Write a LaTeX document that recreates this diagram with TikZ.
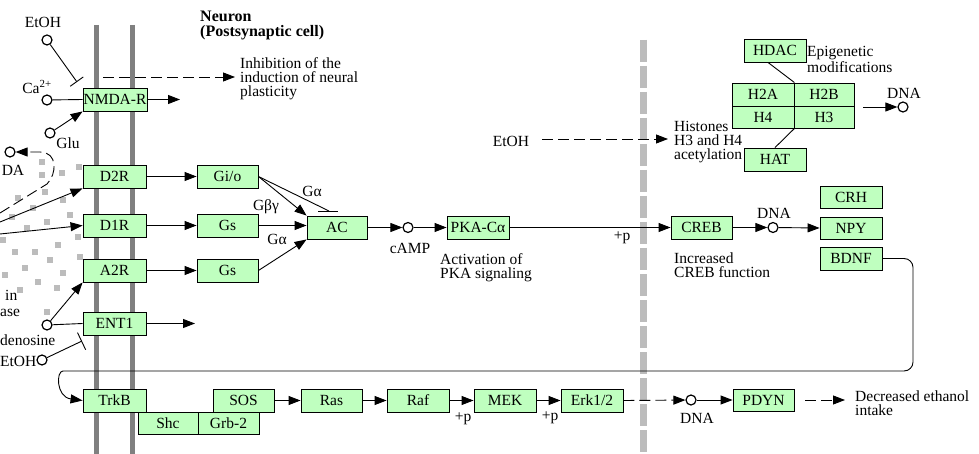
\documentclass[tikz,border=0pt]{standalone}
\usepackage{fontspec}
\setmainfont{Liberation Serif}
\usetikzlibrary{arrows.meta,calc}
\definecolor{kgreen}{RGB}{191,255,191}
\definecolor{memb}{RGB}{128,128,128}
\definecolor{cleft}{RGB}{188,188,188}
\newcommand\kf{\fontsize{15.5}{14}\selectfont}
\newcommand\kb{\fontsize{16}{15}\selectfont\bfseries}
\tikzset{
  gene/.style={draw=black, line width=0.9pt, fill=kgreen, minimum width=62pt, minimum height=23pt, inner sep=0pt, font=\kf},
  cpd/.style={circle, draw=black, line width=1.2pt, fill=white, minimum size=10pt, inner sep=0pt},
  lbl/.style={font=\kf, inner sep=0pt},
  txt/.style={font=\kf, inner sep=0pt, align=left, anchor=west},
  conn/.style={line width=0.9pt},
  act/.style={conn, -{Triangle[length=12pt,width=9pt]}},
  dact/.style={act, dash pattern=on 11pt off 5pt},
  inh/.style={conn, -{Bar[width=16pt, line width=0.9pt]}},
}
\begin{document}
\begin{tikzpicture}[x=1pt,y=-1pt]
\useasboundingbox (0,0) rectangle (979,454);
\clip (0,0) rectangle (979,454);
\fill[white] (0,0) rectangle (979,454);
% membranes
\draw[memb, line width=5pt] (96.5,25) -- (96.5,460);
\draw[memb, line width=5pt] (132,25) -- (132,460);
\draw[cleft, line width=7pt, dash pattern=on 22pt off 4pt] (643,40) -- (643,460);
% synaptic cleft squares
\foreach \x/\y in {42/162,42/175,62/173,79/167,45/192,18/198,63/200,33/208,47/222,70/215,27/228,12/217,58/245,78/237,15/252,35/252,50/260,80/257,25/268,63/273,38/282,57/288,20/290,47/312,5/275,3/240}
  \fill[cleft] (\x-2.75,\y-2.75) rectangle ++(5.5,5.5);
% title
\node[font=\kb, align=left, anchor=west, inner sep=0pt] (title) at (200,25) {Neuron\\(Postsynaptic cell)};
% genes
\node[gene, minimum width=64pt] (nmda) at (115,99.5) {NMDA-R};
\node[gene, minimum width=63pt] (d2r) at (114.5,176.5) {D2R};
\node[gene, minimum width=63pt] (d1r) at (114.5,225.5) {D1R};
\node[gene, minimum width=63pt] (a2r) at (114.5,270.5) {A2R};
\node[gene, minimum width=63pt] (ent1) at (114.5,323.5) {ENT1};
\node[gene, minimum width=61pt] (gio) at (227.5,176.5) {Gi/o};
\node[gene, minimum width=61pt] (gs1) at (227.5,225.5) {Gs};
\node[gene, minimum width=61pt] (gs2) at (227.5,270.5) {Gs};
\node[gene, minimum width=60pt] (ac) at (337,227.5) {AC};
\node[gene] (pka) at (478,227.5) {PKA-Cα};
\node[gene, minimum width=61pt] (creb) at (701.5,227.5) {CREB};
\node[gene, minimum height=22pt] (crh) at (851,197) {CRH};
\node[gene, minimum height=22pt] (npy) at (851,228) {NPY};
\node[gene] (bdnf) at (851,258.5) {BDNF};
\node[gene] (hdac) at (775,50.5) {HDAC};
\node[gene] (hat) at (775,159.5) {HAT};
\node[gene, minimum width=62pt, minimum height=23pt] (h2a) at (763,94.5) {H2A};
\node[gene, minimum width=60pt, minimum height=23pt] (h2b) at (824,94.5) {H2B};
\node[gene, minimum width=62pt, minimum height=22pt] (h4) at (763,117) {H4};
\node[gene, minimum width=60pt, minimum height=22pt] (h3) at (824,117) {H3};
\node[gene, minimum width=60pt, minimum height=22pt] (shc) at (168,423) {Shc};
\node[gene, minimum width=61pt, minimum height=22pt] (grb2) at (228.5,423) {Grb-2};
\node[gene, minimum width=63pt] (trkb) at (114.5,400.5) {TrkB};
\node[gene, minimum width=61pt] (sos) at (243.5,400.5) {SOS};
\node[gene, minimum width=61pt] (ras) at (331.5,400.5) {Ras};
\node[gene] (raf) at (418,400.5) {Raf};
\node[gene] (mek) at (505,400.5) {MEK};
\node[gene] (erk) at (592,400.5) {Erk1/2};
\node[gene, minimum width=61pt, minimum height=22pt] (pdyn) at (763.5,400) {PDYN};
% compounds
\node[cpd] (etoh1) at (47,40) {};
\node[lbl] (etoh1l) at (43,22) {EtOH};
\node[cpd] (ca) at (47,100) {};
\node[lbl] (cal) at (37,87) {Ca\textsuperscript{2+}};
\node[cpd] (glu) at (50,133) {};
\node[lbl] (glul) at (68,143) {Glu};
\node[cpd] (da) at (10,152) {};
\node[lbl] (dal) at (13,170) {DA};
\node[cpd] (ade) at (47,325) {};
\node[lbl, anchor=west] (adel) at (0,340) {denosine};
\node[cpd] (etoh2) at (42,360) {};
\node[lbl, anchor=west] (etoh2l) at (0,361) {EtOH};
\node[lbl, anchor=west] (inl) at (5,295) {in};
\node[lbl, anchor=west] (asel) at (0,313) {ase};
\node[cpd] (camp) at (408,227.5) {};
\node[lbl] (campl) at (410,248) {cAMP};
\node[cpd] (dna1) at (773,227.5) {};
\node[lbl] (dna1l) at (774,213) {DNA};
\node[cpd] (dna2) at (903,107) {};
\node[lbl] (dna2l) at (904,93) {DNA};
\node[cpd] (dna3) at (691,400) {};
\node[lbl] (dna3l) at (697,418) {DNA};
\node[lbl] (etoh3) at (511,141) {EtOH};
% texts
\node[txt] (inhtxt) at (240,79) {Inhibition of the\\induction of neural\\plasticity};
\node[txt] (pkatxt) at (440,268) {Activation of\\PKA signaling};
\node[txt] (crebtxt) at (674,265.5) {Increased\\CREB function};
\node[txt] (histxt) at (674,142) {Histones\\H3 and H4\\acetylation};
\node[txt] (epitxt) at (807,59.5) {Epigenetic\\modifications};
\node[txt] (dectxt) at (855,403) {Decreased ethanol\\intake};
\node[lbl] (p1) at (622,238) {+p};
\node[lbl] (p2) at (463,419) {+p};
\node[lbl] (p3) at (550,418) {+p};
\node[lbl] (ga1) at (312,191) {Gα};
\node[lbl] (gbg) at (266,207) {Gβγ};
\node[lbl] (ga2) at (277,239) {Gα};
% coordinates
\coordinate (etohbar) at (77,82);
\coordinate (nmdaout) at (180,99.5);
\coordinate (inhA) at (103,77);
\coordinate (inhB) at (235,77);
\coordinate (dcl) at (0,213);
\coordinate (l1) at (0,222);
\coordinate (l2) at (0,234);
\coordinate (entout) at (195,323.5);
\coordinate (etoh2bar) at (82,341);
\coordinate (acbar) at (329,211);
\coordinate (acbarL) at (318,211);
\coordinate (acbarR) at (338,211);
\coordinate (e3a) at (542,139);
\coordinate (e3b) at (668,139);
\coordinate (hisout) at (863,107);
\coordinate (pd1) at (805,400);
\coordinate (pd2) at (845,400);
% connectors left
\draw[inh] (etoh1) -- (etohbar);
\draw[conn] (ca) -- (nmda.west);
\draw[act] (glu) -- (nmda.south west);
\draw[act] (nmda.east) -- (nmdaout);
\draw[dact] (inhA) -- (inhB);
\draw[dact] (dcl) -- (47,184) .. controls (57,174) and (58,152) .. (40,152) -- (da);
\draw[act] (l1) -- (d2r.south west);
\draw[act] (l2) -- (d1r.west);
\draw[act] (ade) -- (a2r.south west);
\draw[conn] (ade) -- (ent1.west);
\draw[act] (ent1.east) -- (entout);
\draw[inh, -{Bar[width=19pt, line width=0.9pt]}] (etoh2) -- (etoh2bar);
% G proteins
\draw[act] (d2r.east) -- (gio.west);
\draw[act] (d1r.east) -- (gs1.west);
\draw[act] (a2r.east) -- (gs2.west);
\draw[conn] (gio.east) -- (acbar);
\draw[conn] (acbarL) -- (acbarR);
\draw[act] (gio.east) -- (ac.north west);
\draw[act] (gs1.east) -- (gs1.east -| ac.west);
\draw[act] (gs2.east) -- (ac.south west);
\draw[act] (ac.east) -- (camp);
\draw[act] (camp) -- (pka.west);
\draw[act] (pka.east) -- (creb.west);
\draw[act] (creb.east) -- (dna1);
\draw[act] (dna1) -- (npy.west);
% histones
\draw[conn] ($(hdac.south)+(-7,0)$) -- (h2a.north east);
\draw[conn] (hat.north) -- (h4.south east);
\draw[act] (hisout) -- (dna2);
\draw[dact] (e3a) -- (e3b);
% loop
\draw[act] (bdnf.east) [rounded corners=9pt] -- (913,258.5) -- (913,371) -- (72,371) [sharp corners] .. controls (56,371) and (56,397) .. (trkb.west);
% cascade
\draw[act] (sos.east) -- (ras.west);
\draw[act] (ras.east) -- (raf.west);
\draw[act] (raf.east) -- (mek.west);
\draw[act] (mek.east) -- (erk.west);
\draw[dact] (erk.east) -- (dna3);
\draw[act] (dna3) -- (pdyn.west);
\draw[dact] (pd1) -- (pd2);
\end{tikzpicture}
\end{document}
